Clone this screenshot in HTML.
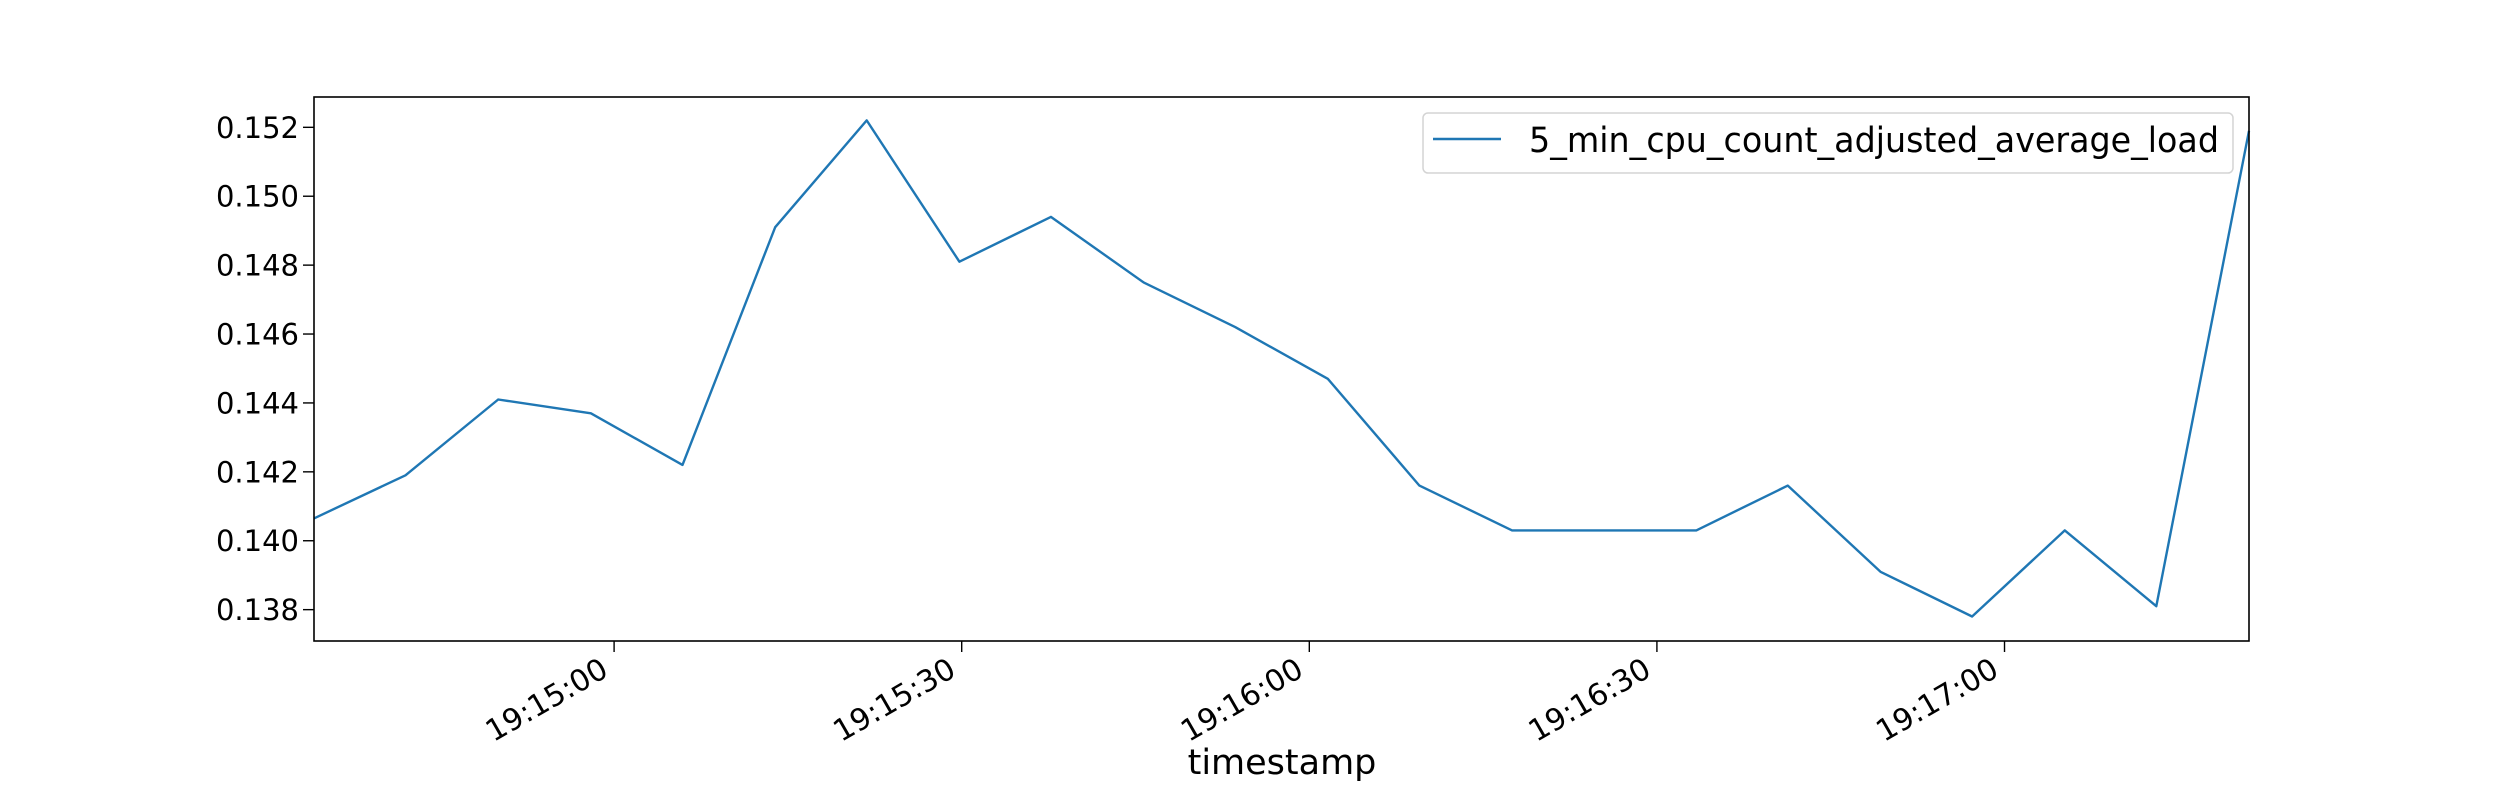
<!DOCTYPE html>
<html><head><meta charset="utf-8"><style>
html,body{margin:0;padding:0;background:#fff;}
svg{display:block;font-family:"DejaVu Sans","Liberation Sans",sans-serif;}
</style></head><body>
<svg id="chart" width="2500" height="800" viewBox="0 0 2500 800" xmlns="http://www.w3.org/2000/svg">
<rect x="0" y="0" width="2500" height="800" fill="#fff"/>
<g id="grid"></g>
<g id="series"></g>
<rect x="314" y="97" width="1935" height="544" fill="none" stroke="#000" stroke-width="1.6"/>
<g id="axes"></g>
<text x="1282" y="774" font-size="35" text-anchor="middle">timestamp</text>
<g>
<rect x="1423" y="113" width="810" height="60" rx="5" fill="#fff" stroke="#d0d0d0" stroke-width="1.5" opacity="0.9"/>
<line x1="1433" y1="139" x2="1501" y2="139" stroke="#1f77b4" stroke-width="2.4"/>
<text x="1529" y="152" font-size="35" textLength="690" lengthAdjust="spacingAndGlyphs">5_min_cpu_count_adjusted_average_load</text>
</g>
</svg>
<script>
// seconds after 19:14:00
const times = [34.1,42.0,50.0,58.0,65.9,73.9,81.8,89.8,97.7,105.7,113.6,121.6,129.5,137.5,145.4,153.4,161.3,169.3,177.2,185.2,193.1,201.1];
const loads = [0.14065,0.1419,0.1441,0.1437,0.1422,0.1491,0.1522,0.1481,0.1494,0.1475,0.1462,0.1447,0.1416,0.1403,0.1403,0.1403,0.1416,0.1391,0.1378,0.1403,0.1381,0.1519];
const yTicks = [0.138,0.140,0.142,0.144,0.146,0.148,0.150,0.152];
const xTickSecs = [60,90,120,150,180];
const xTickLabels = ["19:15:00","19:15:30","19:16:00","19:16:30","19:17:00"];

const X0=314,X1=2249,Y0=641,Y1=97;
const tMin=34.1,tMax=201.1,vMin=0.13709,vMax=0.15288;
function xs(t){return X0+(t-tMin)/(tMax-tMin)*(X1-X0);}
function ys(v){return Y0-(v-vMin)/(vMax-vMin)*(Y0-Y1);}
const NS="http://www.w3.org/2000/svg";
const axes=document.getElementById('axes');
const series=document.getElementById('series');

yTicks.forEach(v=>{
  const y=ys(v);
  const l=document.createElementNS(NS,'line');
  l.setAttribute('x1',303);l.setAttribute('x2',314);l.setAttribute('y1',y);l.setAttribute('y2',y);
  l.setAttribute('stroke','#000');l.setAttribute('stroke-width','1.4');
  
  
  axes.appendChild(l);
  const t=document.createElementNS(NS,'text');
  t.setAttribute('x',299);t.setAttribute('y',y+10.5);t.setAttribute('font-size','29');t.setAttribute('text-anchor','end');
  t.textContent=v.toFixed(3);
  
  
  axes.appendChild(t);
});

xTickSecs.forEach((s,i)=>{
  const x=xs(s);
  const l=document.createElementNS(NS,'line');
  l.setAttribute('x1',x);l.setAttribute('x2',x);l.setAttribute('y1',641);l.setAttribute('y2',652);
  l.setAttribute('stroke','#000');l.setAttribute('stroke-width','1.4');
  
  
  axes.appendChild(l);
  const t=document.createElementNS(NS,'text');
  t.setAttribute('x',0);t.setAttribute('y',0);t.setAttribute('font-size','30');t.setAttribute('text-anchor','end');
  t.setAttribute('transform','translate('+(x-4)+',675) rotate(-30)');
  t.textContent=xTickLabels[i];
  
  
  axes.appendChild(t);
});

const p=document.createElementNS(NS,'polyline');
p.setAttribute('points',times.map((t,i)=>xs(t).toFixed(1)+','+ys(loads[i]).toFixed(1)).join(' '));
p.setAttribute('fill','none');p.setAttribute('stroke','#1f77b4');p.setAttribute('stroke-width','2.4');p.setAttribute('stroke-linejoin','round');


series.appendChild(p);
</script>
</body></html>
